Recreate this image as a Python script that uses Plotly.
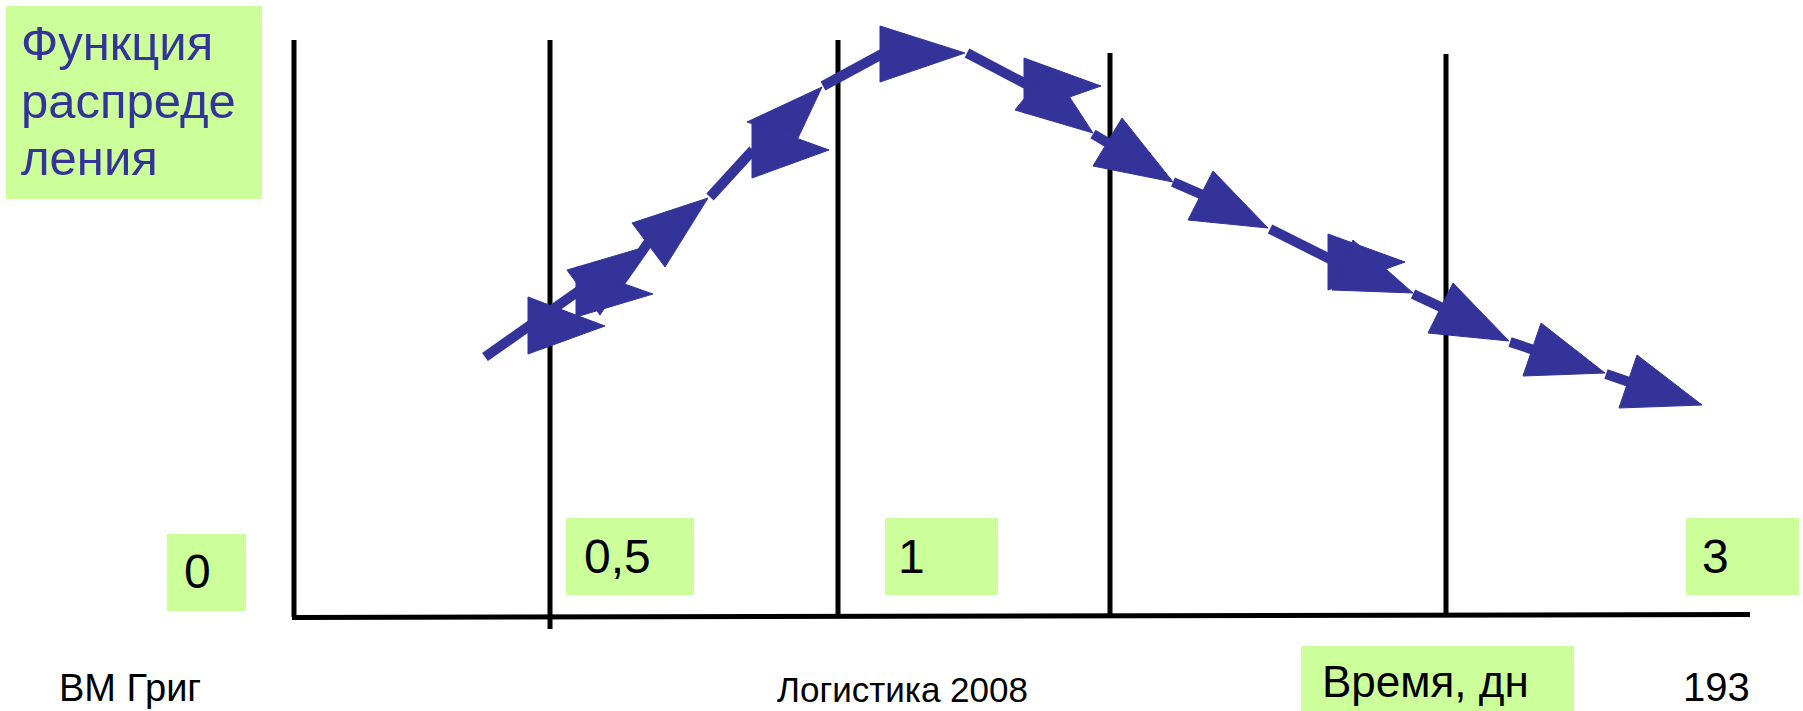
import plotly.graph_objects as go

W, H = 1803, 711
BLUE = "#333399"
GREEN = "#CCFF99"
FONT = "Liberation Sans, Arial, sans-serif"

# slide is laid out in pixel units: x to the right, y downwards
title_lines = ["Функция", "распреде", "ления"]
axis_title = "Время, дн"
tick_labels = ["0", "0,5", "1", "3"]
footer_left = "ВМ Григ"
footer_mid = "Логистика 2008"
footer_right = "193"

# vertical time dividers (x, top, bottom)
divider_x = [294, 550, 838, 1110, 1446]
divider_top = [40, 40, 40, 53, 54]
divider_bottom = [617, 629, 617, 617, 615]

# arrow curve: straight pieces
seg_x0 = [485, 615, 710, 823, 967, 1093, 1173, 1270, 1413, 1510, 1606]
seg_y0 = [357, 290, 197, 86, 53, 134, 182, 229, 294, 342, 374]
seg_x1 = [580, 650, 753, 882, 1026, 1118, 1205, 1332, 1445, 1540, 1632]
seg_y1 = [290, 240, 150, 54, 84, 149, 196, 260, 309, 352, 383]

# arrow heads (triangles)
head_x = [
    [528, 528, 605],
    [576, 576, 653],
    [567, 645, 600],
    [708, 632, 665],
    [822, 747, 798],
    [752, 752, 829],
    [880, 880, 965],
    [1024, 1024, 1101],
    [1015, 1050, 1093],
    [1122, 1093, 1173],
    [1213, 1188, 1268],
    [1328, 1328, 1405],
    [1332, 1353, 1413],
    [1453, 1428, 1509],
    [1541, 1523, 1605],
    [1637, 1619, 1702],
]
head_y = [
    [297, 354, 326],
    [267, 317, 294],
    [270, 247, 315],
    [198, 223, 267],
    [87, 122, 138],
    [122, 178, 150],
    [26, 82, 53],
    [58, 113, 86],
    [110, 67, 133],
    [118, 166, 182],
    [171, 220, 228],
    [234, 290, 262],
    [290, 240, 293],
    [283, 333, 341],
    [323, 376, 373],
    [355, 408, 405],
]

fig = go.Figure()

for x0, y0, x1, y1 in zip(seg_x0, seg_y0, seg_x1, seg_y1):
    fig.add_trace(go.Scatter(x=[x0, x1], y=[y0, y1], mode="lines",
                             line=dict(color=BLUE, width=10), hoverinfo="skip"))

for hx, hy in zip(head_x, head_y):
    fig.add_trace(go.Scatter(x=hx + [hx[0]], y=hy + [hy[0]], mode="lines",
                             fill="toself", fillcolor=BLUE,
                             line=dict(color=BLUE, width=1), hoverinfo="skip"))

shapes = []
# green label boxes
boxes = [(6, 6, 262, 199), (167, 534, 246, 611), (566, 518, 694, 595),
         (885, 518, 998, 595), (1686, 518, 1799, 595), (1301, 646, 1574, 711)]
for bx0, by0, bx1, by1 in boxes:
    shapes.append(dict(type="rect", x0=bx0, y0=by0, x1=bx1, y1=by1,
                       fillcolor=GREEN, line=dict(width=0), layer="below"))
for x, t, b in zip(divider_x, divider_top, divider_bottom):
    shapes.append(dict(type="line", x0=x, x1=x, y0=t, y1=b,
                       line=dict(color="black", width=5), layer="below"))
# time axis
shapes.append(dict(type="line", x0=292, y0=617.5, x1=1750, y1=614.5,
                   line=dict(color="black", width=5), layer="below"))

annotations = []
# title lines set one by one: slide line spacing is tighter than plotly's <br>
for line, ty in zip(title_lines, [43, 101, 158]):
    annotations.append(dict(x=19, y=ty, text=line, xanchor="left", yanchor="middle",
                            font=dict(size=49, color=BLUE)))
annotations += [
    dict(x=1320, y=681, text=axis_title, xanchor="left", yanchor="middle",
         font=dict(size=44, color="black")),
    dict(x=57, y=688, text=footer_left, xanchor="left", yanchor="middle",
         font=dict(size=38, color="black")),
    dict(x=902, y=689, text=footer_mid, xanchor="center", yanchor="middle",
         font=dict(size=35, color="black")),
    dict(x=1752, y=687, text=footer_right, xanchor="right", yanchor="middle",
         font=dict(size=40, color="black")),
]
tick_pos = [(182, 571), (582, 556), (896, 556), (1700, 556)]
for lab, (tx, ty) in zip(tick_labels, tick_pos):
    annotations.append(dict(x=tx, y=ty, text=lab, xanchor="left", yanchor="middle",
                            font=dict(size=48, color="black")))
for a in annotations:
    a.update(showarrow=False, xref="x", yref="y")
    a["font"]["family"] = FONT

fig.update_layout(
    width=W, height=H,
    margin=dict(l=0, r=0, t=0, b=0),
    paper_bgcolor="white", plot_bgcolor="white",
    showlegend=False,
    xaxis=dict(range=[0, W], visible=False, fixedrange=True),
    yaxis=dict(range=[H, 0], visible=False, fixedrange=True),
    shapes=shapes,
    annotations=annotations,
)

# page body has a default margin; drop it so the slide sits at 0,0
fig.write_html("out.html", config={"displayModeBar": False},
               post_script="document.body.style.margin='0px';")
